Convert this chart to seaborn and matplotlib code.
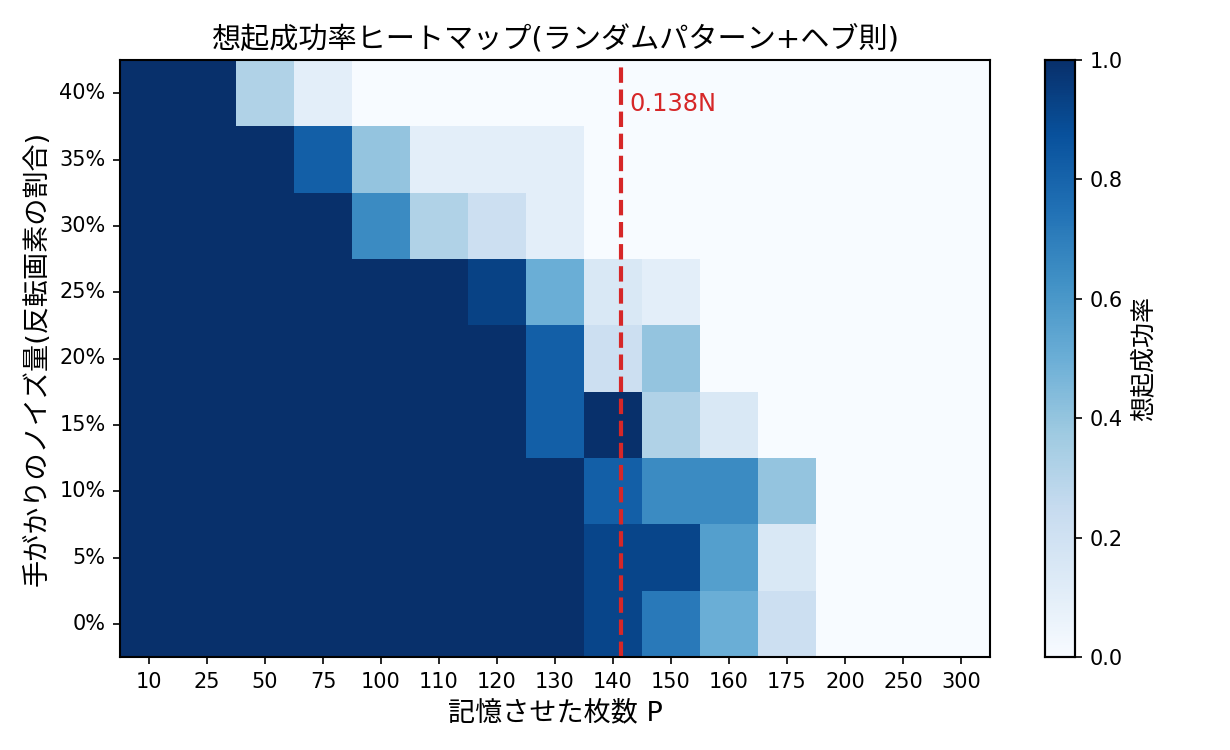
"""
Recall success heatmap for a Hopfield network (random patterns + Hebb rule).

Outputs:
    out.png
"""

import numpy as np
import pandas as pd
import seaborn as sns
import matplotlib.pyplot as plt


# ---------------------------------------------------------------------
# Data
# ---------------------------------------------------------------------

N_NEURONS = 1024
CAPACITY_RATIO = 0.138

stored_patterns = [10, 25, 50, 75, 100, 110, 120, 130, 140, 150, 160, 175, 200, 250, 300]
noise_labels = ["0%", "5%", "10%", "15%", "20%", "25%", "30%", "35%", "40%"]

# recall success rate, one list per noise level (0% ... 40%)
rate_noise_00 = [1, 1, 1, 1, 1, 1, 1, 1, 0.92, 0.72, 0.50, 0.22, 0, 0, 0]
rate_noise_05 = [1, 1, 1, 1, 1, 1, 1, 1, 0.92, 0.92, 0.57, 0.15, 0, 0, 0]
rate_noise_10 = [1, 1, 1, 1, 1, 1, 1, 1, 0.82, 0.65, 0.65, 0.40, 0, 0, 0]
rate_noise_15 = [1, 1, 1, 1, 1, 1, 1, 0.82, 1, 0.32, 0.15, 0, 0, 0, 0]
rate_noise_20 = [1, 1, 1, 1, 1, 1, 1, 0.82, 0.22, 0.40, 0, 0, 0, 0, 0]
rate_noise_25 = [1, 1, 1, 1, 1, 1, 0.93, 0.50, 0.15, 0.10, 0, 0, 0, 0, 0]
rate_noise_30 = [1, 1, 1, 1, 0.65, 0.32, 0.22, 0.10, 0, 0, 0, 0, 0, 0, 0]
rate_noise_35 = [1, 1, 1, 0.82, 0.40, 0.10, 0.10, 0.10, 0, 0, 0, 0, 0, 0, 0]
rate_noise_40 = [1, 1, 0.32, 0.10, 0, 0, 0, 0, 0, 0, 0, 0, 0, 0, 0]

rates = [
    rate_noise_00, rate_noise_05, rate_noise_10, rate_noise_15, rate_noise_20,
    rate_noise_25, rate_noise_30, rate_noise_35, rate_noise_40,
]

LINE_COLOR = "#d62728"


def plot_heatmap():
    plt.rcParams["font.family"] = ["DejaVu Sans", "Noto Sans CJK JP"]

    df = pd.DataFrame(rates, index=noise_labels, columns=stored_patterns)
    df = df.iloc[::-1]  # highest noise on top

    fig = plt.figure(figsize=(8.2, 5), dpi=150)
    ax = fig.add_axes([0.0976, 0.124, 0.7073, 0.796])
    cax = fig.add_axes([0.8496, 0.124, 0.0244, 0.796])

    sns.heatmap(
        df,
        ax=ax,
        cbar_ax=cax,
        cmap="Blues",
        vmin=0,
        vmax=1,
        cbar_kws={"label": "想起成功率"},
    )

    # seaborn drops the frames; the original keeps them
    for spine in ax.spines.values():
        spine.set_visible(True)
        spine.set_linewidth(1.0)
    for spine in cax.spines.values():
        spine.set_visible(True)
        spine.set_linewidth(1.0)
    cax.yaxis.label.set_size(12)
    cax.tick_params(labelsize=10)

    # theoretical capacity 0.138N, placed on the categorical axis
    p_crit = CAPACITY_RATIO * N_NEURONS
    x_crit = np.interp(p_crit, stored_patterns, np.arange(len(stored_patterns))) + 0.5
    ax.axvline(x_crit, color=LINE_COLOR, linestyle="--", linewidth=2)
    ax.text(x_crit + 0.15, 0.66, "0.138N", color=LINE_COLOR, fontsize=11.5, va="center")

    ax.set_title("想起成功率ヒートマップ(ランダムパターン+ヘブ則)", fontsize=14)
    ax.set_xlabel("記憶させた枚数 P", fontsize=13)
    ax.set_ylabel("手がかりのノイズ量(反転画素の割合)", fontsize=13)
    ax.tick_params(axis="both", labelsize=10)
    plt.setp(ax.get_xticklabels(), rotation=0)
    plt.setp(ax.get_yticklabels(), rotation=0)

    fig.savefig("out.png", dpi=150)
    plt.close(fig)


if __name__ == "__main__":
    plot_heatmap()
